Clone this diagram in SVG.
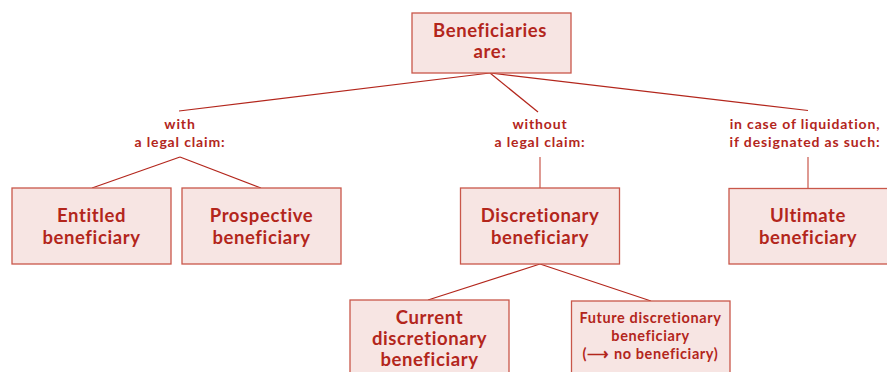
<svg xmlns="http://www.w3.org/2000/svg" width="887" height="372" viewBox="0 0 887 372">
  <style>
    .box { fill: #f7e5e3; stroke: #c9574a; stroke-width: 1.3; }
    .t { font-family: Lato, "Open Sans", sans-serif; font-weight: 700; fill: #b3261c; text-anchor: middle; font-variant-ligatures: none; }
    .big { font-size: 18.5px; letter-spacing: 0.6px; }
    .lbl { font-size: 14px; letter-spacing: 0.85px; }
    .sm { font-size: 14.5px; letter-spacing: 0.6px; }
    .conn line { stroke: #b3261c; stroke-width: 1.2; }
    .conn line.v { stroke: #c9574a; }
  </style>
  <rect width="887" height="372" fill="#ffffff"/>

  <g class="conn" id="connectors">
    <line x1="490" y1="73" x2="179" y2="111"/>
    <line x1="490" y1="73" x2="538" y2="112"/>
    <line x1="490" y1="73" x2="808" y2="110.5"/>
    <line x1="180" y1="157" x2="92" y2="188"/>
    <line x1="180" y1="157" x2="261" y2="188"/>
    <line class="v" x1="540" y1="157" x2="540" y2="188"/>
    <line class="v" x1="808" y1="157" x2="808" y2="188"/>
    <line x1="540" y1="264" x2="428" y2="300"/>
    <line x1="540" y1="264" x2="651" y2="301"/>
  </g>

  <g id="root">
    <rect class="box" x="412" y="13" width="159" height="60"/>
    <text class="t big" x="490" y="37">Beneficiaries</text>
    <text class="t big" x="490" y="58">are:</text>
  </g>

  <g id="label-with">
    <text class="t lbl" x="180" y="129">with</text>
    <text class="t lbl" x="180" y="146.5">a legal claim:</text>
  </g>
  <g id="label-without">
    <text class="t lbl" x="540" y="129">without</text>
    <text class="t lbl" x="540" y="146.5">a legal claim:</text>
  </g>
  <g id="label-liquidation">
    <text class="t lbl" x="805" y="129">in case of liquidation,</text>
    <text class="t lbl" x="805" y="146.5">if designated as such:</text>
  </g>

  <g id="entitled">
    <rect class="box" x="12" y="188" width="159" height="76"/>
    <text class="t big" x="91.5" y="222">Entitled</text>
    <text class="t big" x="91.5" y="244">beneficiary</text>
  </g>
  <g id="prospective">
    <rect class="box" x="182" y="188" width="159" height="76"/>
    <text class="t big" x="261.5" y="222">Prospective</text>
    <text class="t big" x="261.5" y="244">beneficiary</text>
  </g>
  <g id="discretionary">
    <rect class="box" x="460.5" y="188" width="159" height="76"/>
    <text class="t big" x="540" y="222">Discretionary</text>
    <text class="t big" x="540" y="244">beneficiary</text>
  </g>
  <g id="ultimate">
    <rect class="box" x="729" y="188.5" width="170" height="75.5"/>
    <text class="t big" x="808" y="222">Ultimate</text>
    <text class="t big" x="808" y="244">beneficiary</text>
  </g>
  <g id="current">
    <rect class="box" x="350" y="300" width="159" height="90"/>
    <text class="t big" x="429.5" y="324">Current</text>
    <text class="t big" x="429.5" y="345">discretionary</text>
    <text class="t big" x="429.5" y="366">beneficiary</text>
  </g>
  <g id="future">
    <rect class="box" x="571.5" y="301" width="158.5" height="90"/>
    <text class="t sm" x="650.5" y="323">Future discretionary</text>
    <text class="t sm" x="650.5" y="341">beneficiary</text>
    <text class="t sm" x="650.5" y="359">(⟶ no beneficiary)</text>
  </g>
</svg>
